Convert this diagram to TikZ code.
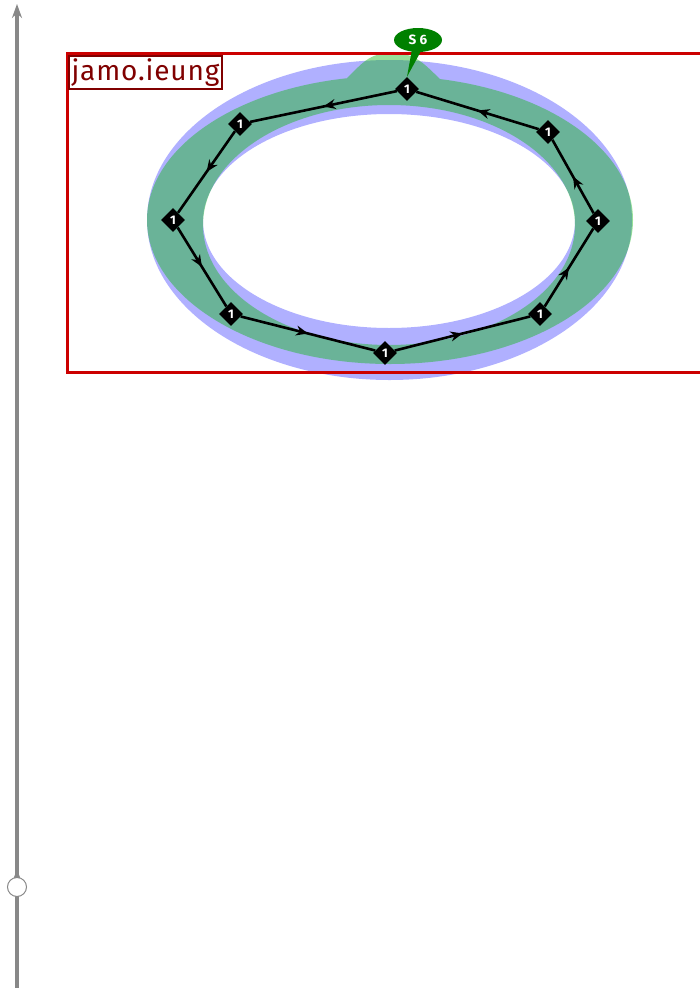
\documentclass[tikz,border=0pt]{standalone}
\usepackage{fontspec}
\setsansfont{Fira Sans}
\newfontfamily\namefont[LetterSpace=3]{Fira Sans}
\usetikzlibrary{arrows.meta,shapes.geometric,decorations.markings,calc}

\definecolor{ringblue}{RGB}{176,176,255}
\definecolor{ringgreen}{RGB}{18,185,22}
\definecolor{boxred}{RGB}{204,0,0}
\definecolor{namered}{RGB}{128,0,0}
\definecolor{axisgray}{RGB}{136,136,136}
\definecolor{taggreen}{RGB}{0,128,0}

\begin{document}
\begin{tikzpicture}[x=1pt,y=-1pt,
	pt/.style={diamond,fill=black,text=white,inner sep=0pt,minimum size=24pt,font=\sffamily\bfseries\fontsize{12.5}{12.5}\selectfont},
	edge/.style={line width=2.6pt,postaction={decorate},decoration={markings,mark=at position .5 with {\arrow{Stealth[length=12pt,width=10pt]}}}},
	axis/.style={line width=4pt,axisgray},
	axismark/.style={circle,draw=axisgray,line width=1pt,fill=white,minimum size=19pt,inner sep=0pt},
	namebox/.style={draw=namered,line width=2pt,fill=white,text=namered,inner sep=2.5pt,font=\namefont\fontsize{28}{29}\selectfont},
	tag/.style={ellipse,fill=taggreen,text=white,minimum width=48pt,minimum height=24pt,inner sep=0pt,font=\sffamily\bfseries\fontsize{13.5}{13.5}\selectfont}]
			\useasboundingbox (0,0) rectangle (700,988);
			% time axis
			\coordinate (axbot) at (17,988);
			\coordinate (axtop) at (17,4);
			\coordinate (axmark) at (17,887);
			\draw[axis,-{Stealth[length=14pt,width=10pt]}] (axbot) -- (axtop);
			\draw[axis,-{Stealth[length=14pt,width=10pt]}] (axbot) -- ([yshift=18pt]axmark);
			\node[axismark] (mk) at (axmark) {};
			% rings
			\fill[ringblue, even odd rule] (389.5,220) ellipse [x radius=242.5,y radius=160] (389,221) ellipse [x radius=186,y radius=107];
			\fill[ringgreen, fill opacity=.44] (390,220) ellipse [x radius=243,y radius=144]
				(440,79) -- (440,96) -- (345,96) -- (345,80) .. controls (362,64) and (368,53) .. (392,53) .. controls (416,53) and (424,64) .. (440,79) -- cycle
				(575,225) arc [start angle=360,end angle=0,x radius=186,y radius=120];
			% points
			\node[pt] (p1) at (407,89) {1};
			\node[pt] (p2) at (240,124) {1};
			\node[pt] (p3) at (173,220) {1};
			\node[pt] (p4) at (231,314) {1};
			\node[pt] (p5) at (385,353) {1};
			\node[pt] (p6) at (540,314) {1};
			\node[pt] (p7) at (598,221) {1};
			\node[pt] (p8) at (548,132) {1};
			\draw[edge] (p1) -- (p2);
			\draw[edge] (p2) -- (p3);
			\draw[edge] (p3) -- (p4);
			\draw[edge] (p4) -- (p5);
			\draw[edge] (p5) -- (p6);
			\draw[edge] (p6) -- (p7);
			\draw[edge] (p7) -- (p8);
			\draw[edge] (p8) -- (p1);
			% glyph box
			\draw[boxred, line width=3pt] (67,53) rectangle (712,372);
			\node[namebox, anchor=north west] (glyphname) at (68,55) {jamo.ieung};
			% tag
			\node[tag] (stag) at (418,40) {S 6};
			\fill[taggreen] ($(stag.south)+(-6,-3)$) -- (p1.north) -- ($(stag.south)+(4,-3)$) -- cycle;
			\end{tikzpicture}
\end{document}
